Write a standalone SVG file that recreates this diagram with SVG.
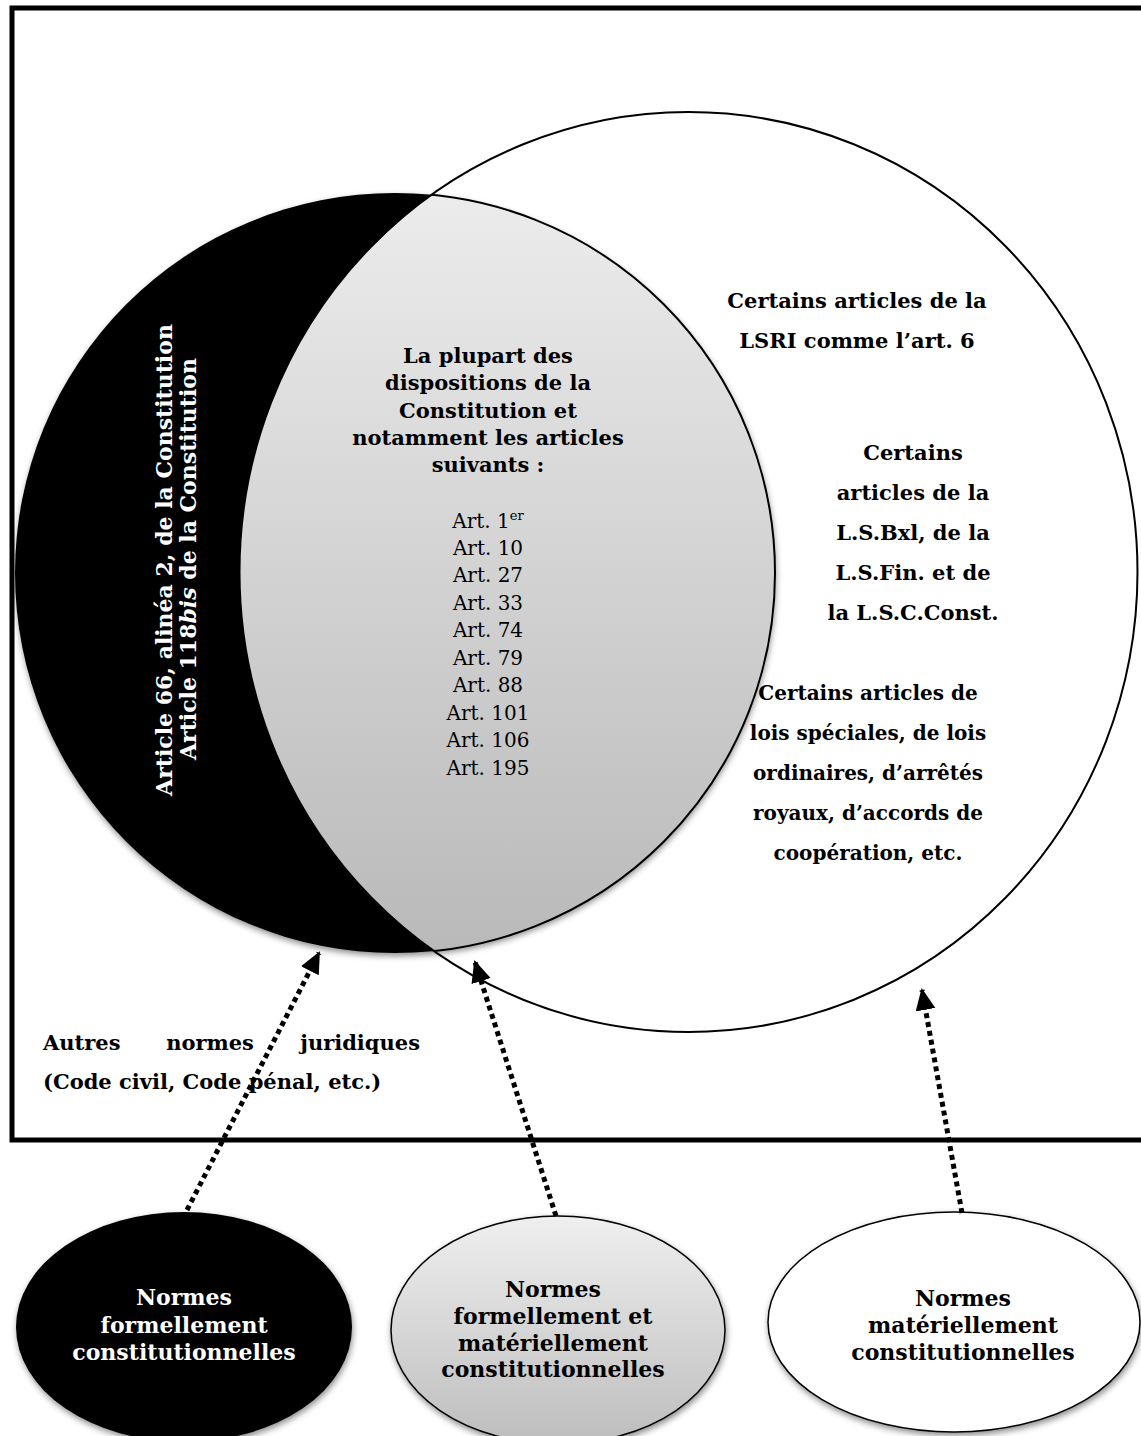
<svg xmlns="http://www.w3.org/2000/svg" width="1141" height="1436" viewBox="0 0 1141 1436">
  <defs>
    <style>
      text { font-family: "DejaVu Serif", "Liberation Serif", serif; font-size: 21px; fill: #000; }
      .b { font-weight: bold; }
      .w { fill: #fff; }
      .c { text-anchor: middle; }
      .big { font-size: 22px; }
      .art { font-size: 20px; }
      .sm { font-size: 20px; }
      .dot { fill: none; stroke: #000; stroke-width: 5; stroke-dasharray: 5 4; }
    </style>
    <linearGradient id="lensGrad" x1="0" y1="0" x2="0" y2="1">
      <stop offset="0" stop-color="#ececec"/>
      <stop offset="1" stop-color="#b9b9b9"/>
    </linearGradient>
    <linearGradient id="midGrad" x1="0" y1="0" x2="0" y2="1">
      <stop offset="0" stop-color="#efefef"/>
      <stop offset="1" stop-color="#bdbdbd"/>
    </linearGradient>
    <filter id="shadow" x="-10%" y="-10%" width="125%" height="125%">
      <feDropShadow dx="1" dy="3" stdDeviation="3" flood-color="#000" flood-opacity="0.45"/>
    </filter>
    <clipPath id="bigClip">
      <ellipse cx="688.5" cy="572" rx="449" ry="460"/>
    </clipPath>
    <marker id="arrow" markerUnits="userSpaceOnUse" markerWidth="24" markerHeight="22" refX="20" refY="11" orient="auto">
      <path d="M0,1 L22,11 L0,21 Z" fill="#000"/>
    </marker>
  </defs>

  <!-- outer frame -->
  <rect x="12" y="8" width="1140" height="1132" fill="#fff" stroke="#000" stroke-width="5"/>

  <!-- formally constitutional set -->
  <g id="formal-set">
    <circle cx="395" cy="573" r="380" fill="#000" filter="url(#shadow)"/>
  </g>

  <!-- intersection: formally and materially constitutional -->
  <g id="both-set">
    <circle cx="395" cy="573" r="380" fill="url(#lensGrad)" stroke="#000" stroke-width="2" clip-path="url(#bigClip)"/>
  </g>

  <!-- materially constitutional set -->
  <g id="material-set">
    <ellipse cx="688.5" cy="572" rx="449" ry="460" fill="none" stroke="#000" stroke-width="2"/>
  </g>

  <!-- labels inside the black crescent -->
  <g id="formal-label">
    <text class="b w c big" transform="translate(172,560) rotate(-90)">Article 66, alinéa 2, de la Constitution</text>
    <text class="b w c big" transform="translate(196,559) rotate(-90)">Article 118<tspan font-style="italic">bis</tspan> de la Constitution</text>
  </g>

  <!-- labels inside the lens -->
  <g id="both-label">
    <text class="b c" x="488" y="363">La plupart des</text>
    <text class="b c" x="488" y="390">dispositions de la</text>
    <text class="b c" x="488" y="418">Constitution et</text>
    <text class="b c" x="488" y="445">notamment les articles</text>
    <text class="b c" x="488" y="472">suivants :</text>
    <text class="c art" x="488" y="528">Art. 1<tspan font-size="13" dy="-8">er</tspan></text>
    <text class="c art" x="488" y="555">Art. 10</text>
    <text class="c art" x="488" y="582">Art. 27</text>
    <text class="c art" x="488" y="610">Art. 33</text>
    <text class="c art" x="488" y="637">Art. 74</text>
    <text class="c art" x="488" y="665">Art. 79</text>
    <text class="c art" x="488" y="692">Art. 88</text>
    <text class="c art" x="488" y="720">Art. 101</text>
    <text class="c art" x="488" y="747">Art. 106</text>
    <text class="c art" x="488" y="775">Art. 195</text>
  </g>

  <!-- labels in the material-only part -->
  <g id="material-label-1">
    <text class="b c" x="857" y="308">Certains articles de la</text>
    <text class="b c" x="857" y="348">LSRI comme l’art. 6</text>
  </g>
  <g id="material-label-2">
    <text class="b c" x="913" y="460">Certains</text>
    <text class="b c" x="913" y="500">articles de la</text>
    <text class="b c" x="913" y="540">L.S.Bxl, de la</text>
    <text class="b c" x="913" y="580">L.S.Fin. et de</text>
    <text class="b c" x="913" y="620">la L.S.C.Const.</text>
  </g>
  <g id="material-label-3">
    <text class="b c sm" x="868" y="700">Certains articles de</text>
    <text class="b c sm" x="868" y="740">lois spéciales, de lois</text>
    <text class="b c sm" x="868" y="780">ordinaires, d’arrêtés</text>
    <text class="b c sm" x="868" y="820">royaux, d’accords de</text>
    <text class="b c sm" x="868" y="860">coopération, etc.</text>
  </g>

  <!-- other legal norms -->
  <g id="other-norms">
    <text class="b" x="43" y="1050">Autres</text>
    <text class="b c" x="210" y="1050">normes</text>
    <text class="b" x="420" y="1050" text-anchor="end">juridiques</text>
    <text class="b" x="43" y="1089">(Code civil, Code pénal, etc.)</text>
  </g>

  <!-- legend ellipses -->
  <g id="legend-formal">
    <ellipse cx="184" cy="1327" rx="168" ry="115" fill="#000" filter="url(#shadow)"/>
    <text class="b w c big" x="184" y="1305">Normes</text>
    <text class="b w c big" x="184" y="1333">formellement</text>
    <text class="b w c big" x="184" y="1360">constitutionnelles</text>
  </g>
  <g id="legend-both">
    <ellipse cx="558" cy="1330" rx="167" ry="114" fill="url(#midGrad)" stroke="#000" stroke-width="1.5" filter="url(#shadow)"/>
    <text class="b c big" x="553" y="1297">Normes</text>
    <text class="b c big" x="553" y="1324">formellement et</text>
    <text class="b c big" x="553" y="1351">matériellement</text>
    <text class="b c big" x="553" y="1377">constitutionnelles</text>
  </g>
  <g id="legend-material">
    <ellipse cx="954" cy="1322" rx="186" ry="110" fill="#fff" stroke="#000" stroke-width="1.5" filter="url(#shadow)"/>
    <text class="b c big" x="963" y="1306">Normes</text>
    <text class="b c big" x="963" y="1333">matériellement</text>
    <text class="b c big" x="963" y="1360">constitutionnelles</text>
  </g>

  <!-- dotted pointers from the legend to the sets -->
  <g id="connectors">
    <line class="dot" x1="187" y1="1210" x2="319" y2="953" marker-end="url(#arrow)"/>
    <line class="dot" x1="556" y1="1216" x2="475" y2="962" marker-end="url(#arrow)"/>
    <line class="dot" x1="962" y1="1213" x2="922" y2="990" marker-end="url(#arrow)"/>
  </g>
</svg>
